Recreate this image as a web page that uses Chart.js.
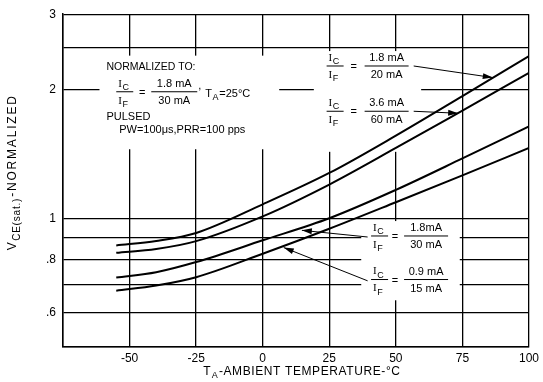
<!DOCTYPE html>
<html>
<head>
<meta charset="utf-8">
<script src="https://cdn.jsdelivr.net/npm/chart.js@4.4.1/dist/chart.umd.min.js"></script>
<style>
  body { margin: 0; background: #fff; }
</style>
</head>
<body>
<canvas id="vce-chart" width="543" height="382"></canvas>
<script>
//Temperature points (deg C)
var tempC = [-55, -40, -25, 0, 25, 50, 75, 100];

//Normalized VCE(sat), one array per IC/IF
var vce_18_20 = [0.864, 0.885, 0.924, 1.078, 1.276, 1.560, 1.930, 2.394];
var vce_36_60 = [0.830, 0.847, 0.884, 1.010, 1.199, 1.460, 1.786, 2.187];
var vce_18_30 = [0.727, 0.748, 0.790, 0.888, 1.000, 1.165, 1.380, 1.640];
var vce_09_15 = [0.677, 0.696, 0.728, 0.826, 0.945, 1.090, 1.260, 1.460];

//Axis ticks
var xTicks = [-75, -50, -25, 0, 25, 50, 75, 100];
var yGrid = [0.5, 0.6, 0.7, 0.8, 0.9, 1, 2, 2.5, 3];
var yLabels = { 0.6: '.6', 0.8: '.8', 1: '1', 2: '2', 3: '3' };

//Curve labels (numerator, denominator)
var ratioNum = ['1.8 mA', '3.6 mA', '1.8mA', '0.9 mA'];
var ratioDen = ['20 mA', '60 mA', '30 mA', '15 mA'];

var FONT = "'Liberation Sans', 'DejaVu Sans', sans-serif";
var SERIF = "'Liberation Serif', 'DejaVu Serif', serif";

//Label layout in data coords: anchor = left end of the I_C/I_F bar, tail/tip = arrow
var ratioPlaces = [
  { at: [24.0, 2.27], eq: 27, off: 38, w: 44, tail: [56.7, 2.27], tip: [86.4, 2.133] },
  { at: [24.0, 1.779], eq: 27, off: 38, w: 44, tail: [56.7, 1.779], tip: [73.4, 1.760] },
  { at: [40.7, 0.909], eq: 24, off: 33, w: 44, tail: [39.4, 0.904], tip: [14.7, 0.937] },
  { at: [40.7, 0.719], eq: 24, off: 33, w: 44, tail: [39.4, 0.714], tip: [7.9, 0.854] }
];

//Areas where the grid is left blank behind the lettering [T1, T2, Vtop, Vbottom]
var blankAreas = [
  [-61.3, 6.2, 2.40, 1.45],
  [19.2, 59.5, 2.46, 1.43],
  [37.0, 74.0, 0.985, 0.643]
];

function subText(ctx, main, sub, x, y, size, subSize, mainFont) {
  ctx.textAlign = 'left';
  ctx.font = size + 'px ' + (mainFont || FONT);
  ctx.fillText(main, x, y);
  var w = ctx.measureText(main).width;
  ctx.font = subSize + 'px ' + FONT;
  ctx.fillText(sub, x + w + 0.5, y + size * 0.32);
  return w + 0.5 + ctx.measureText(sub).width;
}

function hline(ctx, x1, x2, y) {
  ctx.beginPath();
  ctx.moveTo(x1, y);
  ctx.lineTo(x2, y);
  ctx.stroke();
}

function drawRatio(ctx, x, y, p, num, den) {
  ctx.lineWidth = 1;
  hline(ctx, x, x + 17, y);
  subText(ctx, 'I', 'C', x + 2, y - 8, 11, 9, SERIF);
  subText(ctx, 'I', 'F', x + 2, y + 9, 11, 9, SERIF);
  ctx.font = '11px ' + FONT;
  ctx.textAlign = 'center';
  ctx.fillText('=', x + p.eq, y + 1);
  hline(ctx, x + p.off, x + p.off + p.w, y);
  ctx.fillText(num, x + p.off + p.w / 2, y - 8);
  ctx.fillText(den, x + p.off + p.w / 2, y + 9);
}

function arrow(ctx, x1, y1, x2, y2) {
  ctx.lineWidth = 1;
  ctx.beginPath();
  ctx.moveTo(x1, y1);
  ctx.lineTo(x2, y2);
  ctx.stroke();
  var a = Math.atan2(y2 - y1, x2 - x1);
  ctx.beginPath();
  ctx.moveTo(x2, y2);
  ctx.lineTo(x2 - 10 * Math.cos(a) + 3 * Math.sin(a), y2 - 10 * Math.sin(a) - 3 * Math.cos(a));
  ctx.lineTo(x2 - 10 * Math.cos(a) - 3 * Math.sin(a), y2 - 10 * Math.sin(a) + 3 * Math.cos(a));
  ctx.closePath();
  ctx.fill();
}

var notesPlugin = {
  id: 'datasheetNotes',
  beforeDatasetsDraw: function(chart) {
    var ctx = chart.ctx, xs = chart.scales.x, ys = chart.scales.y;
    ctx.save();
    ctx.fillStyle = '#fff';
    blankAreas.forEach(function(b) {
      var x1 = xs.getPixelForValue(b[0]), x2 = xs.getPixelForValue(b[1]);
      var y1 = ys.getPixelForValue(b[2]), y2 = ys.getPixelForValue(b[3]);
      ctx.fillRect(x1, y1, x2 - x1, y2 - y1);
    });
    ctx.restore();
  },
  afterDraw: function(chart) {
    var ctx = chart.ctx, xs = chart.scales.x, ys = chart.scales.y;
    var area = chart.chartArea;
    ctx.save();
    ctx.fillStyle = '#000';
    ctx.strokeStyle = '#000';
    ctx.textBaseline = 'middle';

    //Curve labels and arrows
    ratioPlaces.forEach(function(p, i) {
      var x = xs.getPixelForValue(p.at[0]), y = ys.getPixelForValue(p.at[1]);
      drawRatio(ctx, x, y, p, ratioNum[i], ratioDen[i]);
      arrow(ctx, xs.getPixelForValue(p.tail[0]), ys.getPixelForValue(p.tail[1]),
        xs.getPixelForValue(p.tip[0]), ys.getPixelForValue(p.tip[1]));
    });

    //Normalization note
    var nx = xs.getPixelForValue(-58.7);
    ctx.font = '10.5px ' + FONT;
    ctx.textAlign = 'left';
    ctx.fillText('NORMALIZED TO:', nx, ys.getPixelForValue(2.262));
    var bx = xs.getPixelForValue(-55.0), by = ys.getPixelForValue(1.976);
    drawRatio(ctx, bx, by, { eq: 26, off: 35, w: 46 }, '1.8 mA', '30 mA');
    ctx.textAlign = 'left';
    ctx.fillText(',', bx + 82, by - 6);
    subText(ctx, 'T', 'A', bx + 89, by + 2, 11, 9);
    ctx.font = '11px ' + FONT;
    ctx.fillText('=25°C', bx + 103, by + 2);
    ctx.fillText('PULSED', nx, ys.getPixelForValue(1.728));
    ctx.fillText('PW=100\u03bcs,PRR=100 pps', xs.getPixelForValue(-53.9), ys.getPixelForValue(1.608));

    //X axis title
    ctx.letterSpacing = '0.6px';
    ctx.font = '12px ' + FONT;
    var rest = '-AMBIENT TEMPERATURE-°C';
    var wT = ctx.measureText('T').width;
    var wR = ctx.measureText(rest).width;
    ctx.font = '9px ' + FONT;
    var wA = ctx.measureText('A').width;
    var tx = (area.left + area.right) / 2 + 6 - (wT + wA + wR + 1) / 2;
    var w = subText(ctx, 'T', 'A', tx, 372, 12, 9);
    ctx.font = '12px ' + FONT;
    ctx.fillText(rest, tx + w + 0.5, 372);

    //Y axis title
    ctx.translate(13, 172);
    ctx.rotate(-Math.PI / 2);
    ctx.letterSpacing = '1.8px';
    ctx.font = '12px ' + FONT;
    var yRest = '-NORMALIZED';
    var wV = ctx.measureText('V').width, wY = ctx.measureText(yRest).width;
    ctx.letterSpacing = '0.8px';
    ctx.font = '10px ' + FONT;
    var wS = ctx.measureText('CE(sat.)').width;
    var sx = -(wV + wS + wY + 1) / 2;
    var ws = subText(ctx, 'V', 'CE(sat.)', sx, 0, 12, 10);
    ctx.letterSpacing = '1.8px';
    ctx.font = '12px ' + FONT;
    ctx.fillText(yRest, sx + ws + 1, 0);
    ctx.restore();
  }
};

function mkSet(values) {
  return {
    data: tempC.map(function(t, i) { return { x: t, y: values[i] }; }),
    borderColor: '#000',
    borderWidth: 2,
    pointRadius: 0,
    fill: false,
    cubicInterpolationMode: 'monotone'
  };
}

var vceChart = new Chart(document.getElementById('vce-chart'), {
  type: 'line',
  data: {
    datasets: [mkSet(vce_18_20), mkSet(vce_36_60), mkSet(vce_18_30), mkSet(vce_09_15)]
  },
  options: {
    responsive: false,
    animation: false,
    layout: { padding: { top: 11, right: 8, left: 0, bottom: 0 } },
    plugins: { legend: { display: false }, tooltip: { enabled: false } },
    scales: {
      x: {
        type: 'linear',
        min: -75,
        max: 100,
        afterBuildTicks: function(s) {
          s.ticks = xTicks.map(function(v) { return { value: v }; });
        },
        afterFit: function(s) { s.height = 35; },
        grid: { color: '#000', lineWidth: 1.3, drawTicks: false },
        border: { color: '#000', width: 1.5 },
        ticks: {
          color: '#000',
          padding: 4,
          font: { family: FONT, size: 12 },
          callback: function(v) { return v === -75 ? '' : String(v); }
        }
      },
      y: {
        type: 'logarithmic',
        min: 0.5,
        max: 3,
        afterBuildTicks: function(s) {
          s.ticks = yGrid.map(function(v) { return { value: v }; });
        },
        afterFit: function(s) { s.width = 63; },
        grid: { color: '#000', lineWidth: 1.3, drawTicks: false },
        border: { color: '#000', width: 1.5 },
        ticks: {
          color: '#000',
          padding: 7,
          font: { family: FONT, size: 12 },
          callback: function(v) { return yLabels[v] || ''; }
        }
      }
    }
  },
  plugins: [notesPlugin]
});
</script>
</body>
</html>
